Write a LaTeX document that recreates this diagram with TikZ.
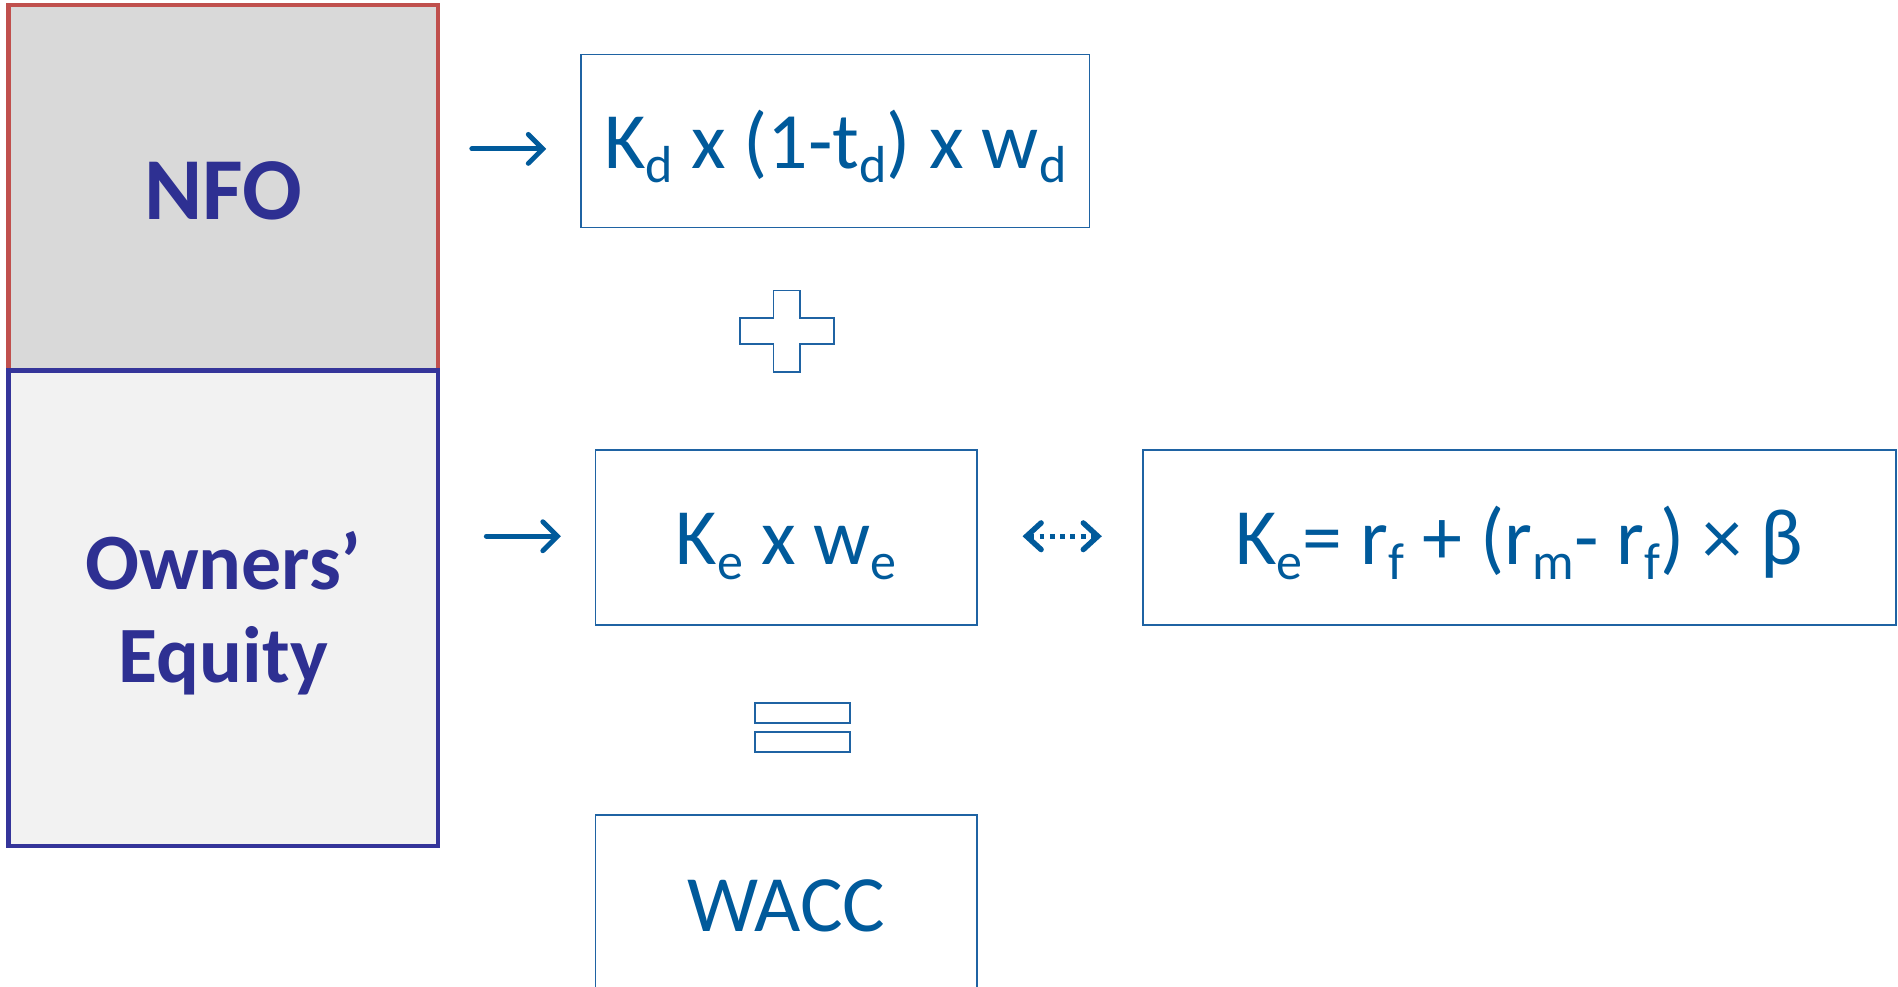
\documentclass[tikz,border=0pt]{standalone}
\usepackage{fontspec}
\setmainfont{Carlito}
\usetikzlibrary{arrows.meta}
\definecolor{nfored}{HTML}{C0504D}
\definecolor{nfofill}{HTML}{D9D9D9}
\definecolor{oeblue}{HTML}{35359A}
\definecolor{oefill}{HTML}{F2F2F2}
\definecolor{navytext}{HTML}{2E3092}
\definecolor{fblue}{HTML}{005A9B}
\definecolor{boxblue}{HTML}{1F63A3}
\newcommand\lsub[1]{\raisebox{-12pt}{\fontsize{43}{43}\selectfont #1}}
\tikzset{
  leftbox/.style={rectangle, inner sep=0pt, line width=3.5pt, align=center, text=navytext,
    font=\bfseries},
  fbox/.style={rectangle, draw=boxblue, line width=1.5pt, fill=white, inner sep=0pt,
    text=fblue, font=\fontsize{66}{79}\selectfont},
  ftext/.style={text height=50pt, text depth=5pt},
  shapeline/.style={draw=boxblue, line width=1.5pt, fill=white},
  arr/.style={draw=fblue, line width=4pt, line cap=round,
    -{Straight Barb[length=12pt,width=24pt,line cap=round]}},
  dotarr/.style={draw=fblue, line width=4.5pt, dash pattern=on 4pt off 4.5pt,
    {Straight Barb[length=12pt,width=22pt,line cap=round]}-{Straight Barb[length=12pt,width=22pt,line cap=round]}}
}
\begin{document}
\begin{tikzpicture}[x=1pt,y=-1pt]
\useasboundingbox (0,0) rectangle (1568,815);
\clip (0,0) rectangle (1568,815);
% left stacked boxes
\node[leftbox, draw=nfored, fill=nfofill, minimum width=355pt, minimum height=302pt,
  text height=56pt, text depth=4pt,
  font=\bfseries\fontsize{73}{80}\selectfont] (nfo) at (184.5,155) {NFO};
\node[leftbox, draw=oeblue, fill=oefill, minimum width=355pt, minimum height=393pt,
  text height=127pt, text depth=4pt,
  font=\bfseries\fontsize{66}{77}\selectfont] (oe) at (184.5,502.5) {Owners’\\Equity};
% formula boxes
\node[fbox, ftext, minimum width=420pt, minimum height=143pt] (kd) at (690,116.5)
  {K\lsub{d} x (1-t\lsub{d}) x w\lsub{d}};
\node[fbox, ftext, minimum width=315pt, minimum height=144pt] (ke) at (649.5,444)
  {K\lsub{e} x w\lsub{e}};
\node[fbox, ftext, minimum width=622pt, minimum height=144pt] (capm) at (1255,444)
  {K\lsub{e}= r\lsub{f} + (r\lsub{m}- r\lsub{f}) × β};
\node[fbox, minimum width=315pt, minimum height=150pt] (wacc) at (649.5,748) {WACC};
% plus sign
\draw[shapeline] (639,240) -- (661,240) -- (661,263) -- (689,263) -- (689,284) -- (661,284)
  -- (661,307) -- (639,307) -- (639,284) -- (611,284) -- (611,263) -- (639,263) -- cycle;
% equal sign
\draw[shapeline] (624,581) rectangle (702,597);
\draw[shapeline] (624,605) rectangle (702,621);
% arrows
\coordinate (a1e) at ([xshift=-28pt,yshift=-6.5pt]kd.west);
\coordinate (a1s) at ([xshift=26pt]nfo.east |- a1e);
\draw[arr] (a1s) -- (a1e);
\coordinate (a2e) at ([xshift=-28pt,yshift=1pt]ke.west);
\coordinate (a2s) at ([xshift=38pt]oe.east |- a2e);
\draw[arr] (a2s) -- (a2e);
\draw[dotarr] ([xshift=37pt,yshift=1pt]ke.east) -- ([xshift=-33pt,yshift=1pt]capm.west);
\end{tikzpicture}
\end{document}
